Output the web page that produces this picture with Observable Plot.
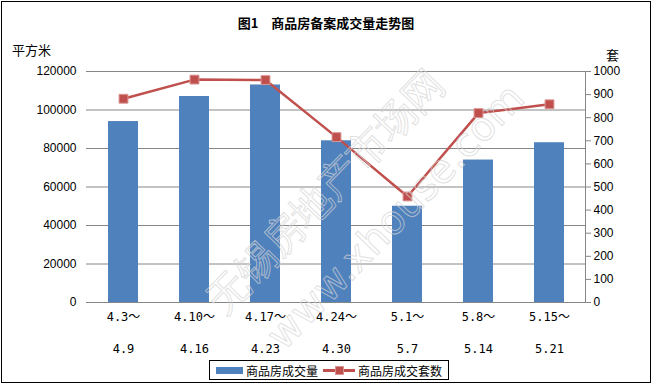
<!DOCTYPE html>
<html>
<head>
<meta charset="utf-8">
<script src="https://cdn.jsdelivr.net/npm/d3@7"></script>
<script src="https://cdn.jsdelivr.net/npm/@observablehq/plot@0.6"></script>
<style>
  html, body { margin: 0; padding: 0; background: #fff; }
  #page { position: relative; width: 652px; height: 387px; overflow: hidden; font-family: "Noto Sans CJK SC", sans-serif; }
  #frame { position: absolute; left: 1px; top: 1px; width: 648px; height: 380px; border: 1px solid #000; box-sizing: content-box; }
  #title { position: absolute; left: 0; width: 652px; top: 13px; text-align: center; font-size: 13px; font-weight: bold; color: #000; }
  .unit { position: absolute; font-size: 13px; color: #000; }
  #chart { position: absolute; left: 0; top: 0; }
  #legend { position: absolute; left: 209px; top: 360px; width: 238px; height: 18px; border: 1px solid #000; background: #fff;
            display: flex; align-items: center; font-size: 12px; color: #000; }
  .sw-bar { display: inline-block; width: 27px; height: 7px; background: #4F81BD; margin-left: 6px; margin-right: 3px; }
  .sw-line { position: relative; display: inline-block; width: 32px; height: 10px; margin-left: 5px; margin-right: 3px; }
  .sw-line:before { content: ""; position: absolute; left: 0; right: 0; top: 4px; height: 3px; background: #C0504D; }
  .sw-line:after { content: ""; position: absolute; left: 12px; top: 1px; width: 7px; height: 7px; background: #C0504D; border: 1px solid #D99694; }
</style>
</head>
<body>
<div id="page">
  <div id="chart"></div>
  <div id="frame"></div>
  <div id="title">图1　商品房备案成交量走势图</div>
  <div class="unit" style="left:12px; top:40px;">平方米</div>
  <div class="unit" style="left:606px; top:45px;">套</div>
  <div id="legend">
    <span class="sw-bar"></span><span>商品房成交量</span>
    <span class="sw-line"></span><span>商品房成交套数</span>
  </div>
</div>
<script>
const weekStarts = ["4.3～", "4.10～", "4.17～", "4.24～", "5.1～", "5.8～", "5.15～"];
const weekEnds = ["4.9", "4.16", "4.23", "4.30", "5.7", "5.14", "5.21"];
const area = [94000, 107000, 113000, 84000, 50000, 74000, 83000];   // 商品房成交量 (平方米)
const units = [882, 965, 963, 716, 459, 820, 858];                 // 商品房成交套数 (套)
const leftTicks = [0, 20000, 40000, 60000, 80000, 100000, 120000];
const rightTicks = [0, 100, 200, 300, 400, 500, 600, 700, 800, 900, 1000];

const ratio = 120000 / 1000;
const data = weekStarts.map((w, i) => ({ week: w, end: weekEnds[i], area: area[i], units: units[i] }));

const numFont = "Liberation Sans, sans-serif";
const labFont = "DejaVu Sans Mono, Noto Sans CJK SC, monospace";

const chart = Plot.plot({
  width: 652,
  height: 357,
  marginLeft: 86,
  marginRight: 67,
  marginTop: 71,
  marginBottom: 55,
  style: { background: "transparent", overflow: "visible" },
  x: { type: "band", domain: weekStarts, paddingInner: 0.58, paddingOuter: 0.29, axis: null },
  y: { domain: [0, 120000], axis: null },
  marks: [
    Plot.ruleY(leftTicks, { stroke: "#868686", strokeWidth: 1 }),
    Plot.axisY({ ticks: leftTicks, label: null, tickSize: 0, tickPadding: 10, tickFormat: d => String(d), fontSize: 12, fontFamily: numFont, fill: "#000" }),
    Plot.barY(data, { x: "week", y: "area", fill: "#4F81BD" }),
    Plot.line(data, { x: "week", y: d => d.units * ratio, stroke: "#C0504D", strokeWidth: 2.5 }),
    Plot.dot(data, { x: "week", y: d => d.units * ratio, symbol: "square", r: 5, fill: "#C0504D", stroke: "#D99694", strokeWidth: 1 }),
    Plot.frame({ anchor: "right", stroke: "#868686" }),
    Plot.axisY({ anchor: "right", label: null, ticks: rightTicks.map(v => v * ratio), tickFormat: v => String(Math.round(v / ratio)), tickSize: 5, tickPadding: 3, stroke: "#868686", fontSize: 12, fontFamily: numFont, fill: "#000" }),
    Plot.text(data, { x: "week", text: "week", frameAnchor: "bottom", dy: 18, fontSize: 12, fontFamily: labFont, fill: "#000" }),
    Plot.text(data, { x: "week", text: "end", frameAnchor: "bottom", dy: 50, fontSize: 12, fontFamily: labFont, fill: "#000" }),
    Plot.text(["无锡房地产市场网"], { frameAnchor: "middle", dx: -10, dy: 5, rotate: -46, fontSize: 40, fill: "none", stroke: "#d4d4d4", strokeOpacity: 0.7, strokeWidth: 1 }),
    Plot.text(["www.xhouse.com"], { frameAnchor: "middle", dx: 60, dy: 30, rotate: -46, fontSize: 40, fontFamily: "DejaVu Sans, sans-serif", fill: "none", stroke: "#d4d4d4", strokeOpacity: 0.7, strokeWidth: 1 })
  ]
});
document.getElementById("chart").appendChild(chart);
</script>
</body>
</html>
